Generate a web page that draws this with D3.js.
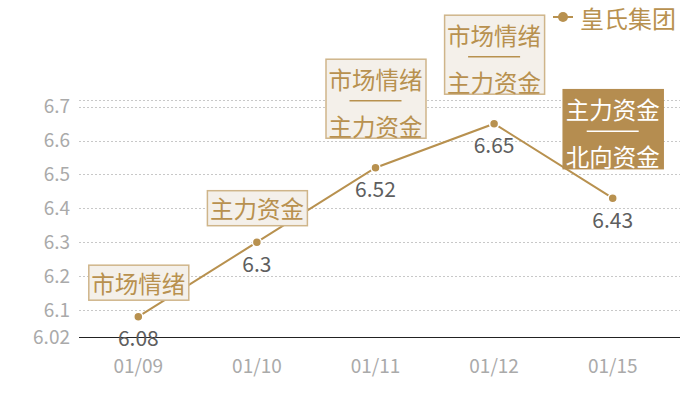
<!DOCTYPE html>
<html>
<head>
<meta charset="utf-8">
<script src="https://cdn.jsdelivr.net/npm/d3@7"></script>
<style>
  body { margin: 0; background: #fff; }
  svg text { font-family: "Noto Sans CJK SC", "Noto Sans", sans-serif; }
</style>
</head>
<body>
<div class="canvas"></div>
<script>
// chart data
const dates = ['01/09', '01/10', '01/11', '01/12', '01/15'];
const prices = [6.08, 6.3, 6.52, 6.65, 6.43];
const tags = [
  ['市场情绪'],
  ['主力资金'],
  ['市场情绪', '主力资金'],
  ['市场情绪', '主力资金'],
  ['主力资金', '北向资金']
];
const yTicks = [6.02, 6.1, 6.2, 6.3, 6.4, 6.5, 6.6, 6.7];
const yMax = 6.72;
const seriesName = '皇氏集团';

const gold = '#b8914f';

const svg = d3.select('.canvas')
  .append('svg')
    .attr('width', 700)
    .attr('height', 400);

const margin = {top: 100, right: 20, bottom: 63, left: 79};
const graphWidth = 700 - margin.left - margin.right;
const graphHeight = 400 - margin.top - margin.bottom;

const graph = svg.append('g')
  .attr('transform', `translate(${margin.left}, ${margin.top})`);

// scales
const x = d3.scaleBand()
  .domain(dates)
  .range([0, 593]);
const y = d3.scaleLinear()
  .domain([yTicks[0], yMax])
  .range([graphHeight, 0]);
const cx = d => x(d) + x.bandwidth() / 2;

// dashed grid lines
graph.append('g')
  .selectAll('line')
  .data(yTicks.slice(1).concat([yMax]))
  .enter().append('line')
    .attr('x1', 0)
    .attr('x2', graphWidth)
    .attr('y1', d => Math.round(y(d)) + 0.5)
    .attr('y2', d => Math.round(y(d)) + 0.5)
    .attr('stroke', '#c8c8c8')
    .attr('stroke-dasharray', '2,2');

// axes
const yAxisGroup = graph.append('g')
  .call(d3.axisLeft(y).tickValues(yTicks).tickSize(0).tickPadding(9).tickFormat(d => d));
yAxisGroup.select('.domain').remove();
yAxisGroup.selectAll('text')
  .attr('fill', '#aaa')
  .attr('font-size', 19);

const xAxisGroup = graph.append('g')
  .attr('transform', `translate(0, ${graphHeight})`)
  .call(d3.axisBottom(x).tickSize(0).tickPadding(23));
xAxisGroup.select('.domain').remove();
xAxisGroup.selectAll('text')
  .attr('fill', '#aaa')
  .attr('font-size', 19);

graph.append('line')
  .attr('x1', 0)
  .attr('x2', graphWidth)
  .attr('y1', graphHeight + 0.5)
  .attr('y2', graphHeight + 0.5)
  .attr('stroke', '#222')
  .attr('stroke-width', 1.2);

// line + points
const line = d3.line()
  .x((d, i) => cx(dates[i]))
  .y(d => y(d));

graph.append('path')
  .datum(prices)
  .attr('d', line)
  .attr('fill', 'none')
  .attr('stroke', gold)
  .attr('stroke-width', 2);

graph.selectAll('circle.pt')
  .data(prices)
  .enter().append('circle')
    .attr('class', 'pt')
    .attr('cx', (d, i) => cx(dates[i]))
    .attr('cy', d => y(d))
    .attr('r', 4.5)
    .attr('fill', gold)
    .attr('stroke', '#fff')
    .attr('stroke-width', 1.5);

// value labels
graph.selectAll('text.val')
  .data(prices)
  .enter().append('text')
    .attr('class', 'val')
    .attr('x', (d, i) => cx(dates[i]))
    .attr('y', d => y(d) + 24)
    .attr('text-anchor', 'middle')
    .attr('dominant-baseline', 'middle')
    .attr('font-size', 21)
    .attr('fill', '#5e5e5e')
    .text(d => d);

// annotation boxes
const boxW = 100;
tags.forEach((lines, i) => {
  const multi = lines.length > 1;
  const h = multi ? 79 : 35;
  const gap = multi ? 30 : 17;
  const px = cx(dates[i]);
  const top = y(prices[i]) - gap - h;
  const hot = i === dates.length - 1;
  const fg = hot ? '#fff' : gold;
  const g = graph.append('g')
    .attr('transform', `translate(${px - boxW / 2}, ${top})`);
  g.append('rect')
    .attr('x', 0.5)
    .attr('y', 0.5)
    .attr('width', boxW)
    .attr('height', h)
    .attr('fill', hot ? '#b58d50' : '#f4f0ea')
    .attr('stroke', hot ? '#b58d50' : '#cfb58a')
    .attr('stroke-width', 1.5);
  const rowY = multi ? [20, 67] : [18];
  lines.forEach((t, k) => {
    g.append('text')
      .attr('x', boxW / 2)
      .attr('y', rowY[k])
      .attr('text-anchor', 'middle')
      .attr('dominant-baseline', 'central')
      .attr('font-size', 23.5)
      .attr('fill', fg)
      .text(t);
  });
  if (multi) {
    g.append('line')
      .attr('x1', boxW / 2 - 26)
      .attr('x2', boxW / 2 + 26)
      .attr('y1', 42)
      .attr('y2', 42)
      .attr('stroke', fg)
      .attr('stroke-width', 1.5);
  }
});

// legend
const legend = svg.append('g')
  .attr('transform', 'translate(553, 17)');
legend.append('line')
  .attr('x1', 0)
  .attr('x2', 20)
  .attr('stroke', gold)
  .attr('stroke-width', 2);
legend.append('circle')
  .attr('cx', 10)
  .attr('r', 5)
  .attr('fill', gold);
legend.append('text')
  .attr('x', 27)
  .attr('y', 0)
  .attr('dominant-baseline', 'central')
  .attr('font-size', 24)
  .attr('fill', gold)
  .text(seriesName);
</script>
</body>
</html>
